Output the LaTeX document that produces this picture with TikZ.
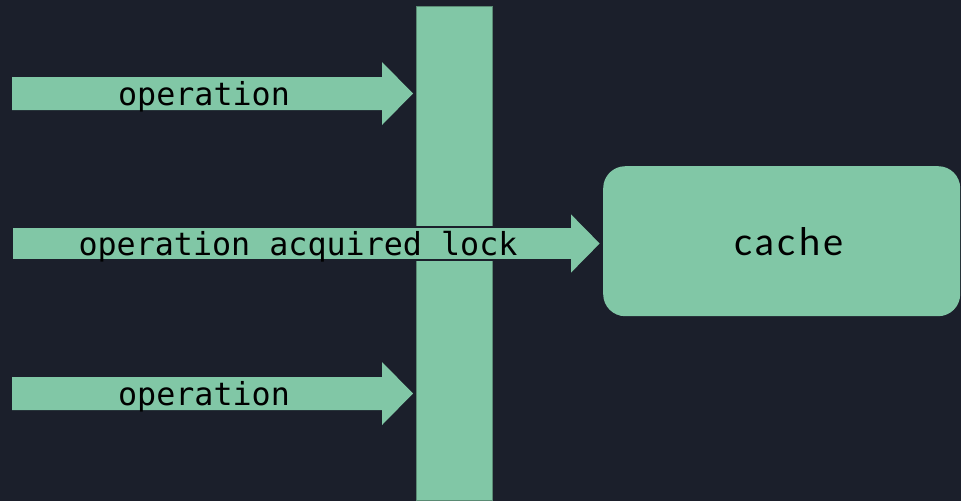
\documentclass[tikz,border=0pt]{standalone}
\usepackage{fontspec}
\setmainfont{Lato}
\newfontfamily\labelfont[LetterSpace=8]{Lato}
\newfontfamily\codefont{DejaVu Sans Mono}
\definecolor{bgdark}{HTML}{1B1F2B}
\definecolor{mint}{HTML}{81C7A6}
\begin{document}
\begin{tikzpicture}[x=1pt,y=-1pt,
  blockarrow/.style={fill=mint},
  oplabel/.style={font=\codefont\fontsize{31.7}{36}\selectfont, text=black, inner sep=0pt, anchor=base},
  barbox/.style={fill=mint, draw=mint!70!black, line width=0.6pt, inner sep=0pt, anchor=north west},
  cachebox/.style={fill=mint, rounded corners=22pt, inner sep=0pt, anchor=north west},
  cachelabel/.style={font=\labelfont\fontsize{38}{44}\selectfont, text=black, inner sep=0pt, anchor=base}]
  % background and page size
  \fill[bgdark] (0,0) rectangle (961,501);
  \useasboundingbox (0,0) rectangle (961,501);

  % the lock bar
  \node[barbox, minimum width=76pt, minimum height=494pt] (bar) at (416,6) {};

  % the cache
  \node[cachebox, minimum width=357pt, minimum height=150pt] (cache) at (603,166) {};
  \node[cachelabel] (cachetext) at (789,255) {cache};

  % tips of the block arrows
  \coordinate (tipA) at (bar.west |- 0,93.5);
  \coordinate (tipC) at (bar.west |- 0,393.5);
  \coordinate (tipB) at (cache.west |- 0,243.5);

  % upper waiting operation
  \fill[blockarrow] (12,77) -- (382,77) -- (382,62) -- ([xshift=-3pt]tipA) -- (382,125) -- (382,110) -- (12,110) -- cycle;
  \node[oplabel] (opA) at (204,105) {operation};

  % lower waiting operation
  \fill[blockarrow] (12,377) -- (382,377) -- (382,362) -- ([xshift=-3pt]tipC) -- (382,425) -- (382,410) -- (12,410) -- cycle;
  \node[oplabel] (opC) at (204,405) {operation};

  % operation holding the lock passes through the bar
  \filldraw[blockarrow, draw=bgdark, line width=1.6pt, line join=miter]
    (12,227) -- (570,227) -- (570,212) -- ([xshift=-2pt]tipB) -- (570,275) -- (570,260) -- (12,260) -- cycle;
  \node[oplabel] (opB) at (298,255) {operation acquired lock};
\end{tikzpicture}
\end{document}
